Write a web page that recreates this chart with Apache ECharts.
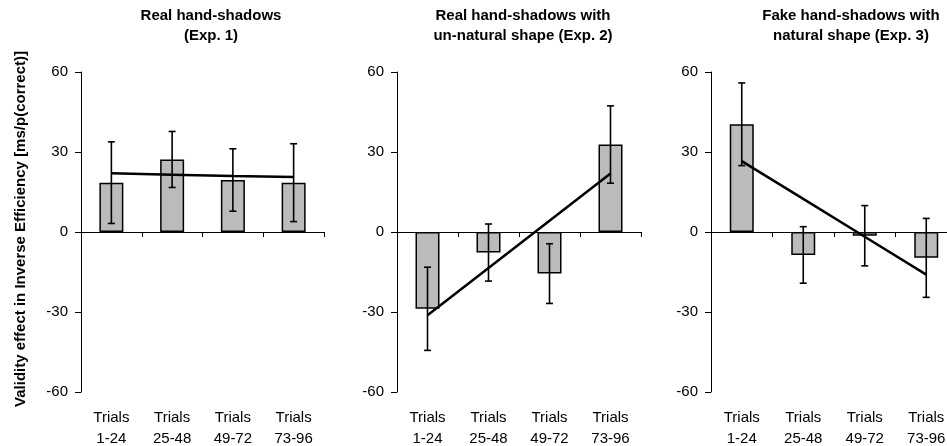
<!DOCTYPE html>
<html>
<head>
<meta charset="utf-8">
<script src="https://cdn.jsdelivr.net/npm/echarts@6/dist/echarts.min.js"></script>
<style>
html,body{margin:0;padding:0;background:#fff;}
#chart{width:947px;height:446px;}
</style>
</head>
<body>
<div id="chart"></div>
<script>
// ---- data ----
const categories = ['Trials\n1-24', 'Trials\n25-48', 'Trials\n49-72', 'Trials\n73-96'];
const panelTitles = [
  'Real hand-shadows\n(Exp. 1)',
  'Real hand-shadows with\nun-natural shape (Exp. 2)',
  'Fake hand-shadows with\nnatural shape (Exp. 3)'
];
const yTicks = [-60, -30, 0, 30, 60];
const exp1Means = [18.5, 27.2, 19.5, 18.5];
const exp1Errors = [15.3, 10.5, 11.7, 14.6];
const exp1Trend = [22.0, 21.5, 21.0, 20.6];
const exp2Means = [-28.8, -7.7, -15.6, 32.8];
const exp2Errors = [15.6, 10.7, 11.2, 14.5];
const exp2Trend = [-31.2, -13.5, 4.2, 21.9];
const exp3Means = [40.4, -8.6, -1.4, -9.7];
const exp3Errors = [15.5, 10.6, 11.3, 14.8];
const exp3Trend = [26.6, 12.4, -1.8, -16.0];
const yAxisTitle = 'Validity effect in Inverse Efficiency [ms/p(correct)]';

const panels = [
  {means: exp1Means, errors: exp1Errors, trend: exp1Trend},
  {means: exp2Means, errors: exp2Errors, trend: exp2Trend},
  {means: exp3Means, errors: exp3Errors, trend: exp3Trend}
];

// ---- layout ----
const grids = [
  {left: 81, width: 243},
  {left: 397, width: 244},
  {left: 711, width: 246}
];
const titleCenters = [206, 518, 846];
const FONT = '"Liberation Sans", Arial, sans-serif';

const option = {
  backgroundColor: '#fff',
  animation: false,
  title: panelTitles.map((t, i) => ({
    text: t,
    left: titleCenters[i],
    top: 1,
    padding: 5,
    textAlign: 'center',
    textStyle: {fontFamily: FONT, fontWeight: 'bold', fontSize: 15, color: '#000', lineHeight: 20}
  })),
  grid: grids.map(g => ({
    left: g.left, width: g.width, top: 72, height: 320,
    containLabel: false, outerBoundsMode: 'none'
  })),
  xAxis: [],
  yAxis: [],
  series: [],
  graphic: [{
    type: 'text',
    x: 21, y: 229,
    rotation: Math.PI / 2,
    style: {
      text: yAxisTitle,
      font: 'bold 15px ' + FONT,
      fill: '#000',
      align: 'center',
      verticalAlign: 'middle'
    }
  }]
};

panels.forEach((p, i) => {
  // zero-line axis with boundary ticks
  option.xAxis.push({
    type: 'category', gridIndex: i, data: categories,
    axisLine: {onZero: true, lineStyle: {color: '#000', width: 1}},
    axisTick: {show: true, length: 5, lineStyle: {color: '#000'}},
    axisLabel: {show: false},
    splitLine: {show: false}
  });
  // bottom label axis
  option.xAxis.push({
    type: 'category', gridIndex: i, data: categories, position: 'bottom',
    axisLine: {show: false, onZero: false},
    axisTick: {show: false},
    axisLabel: {show: true, margin: 15, color: '#000', fontFamily: FONT, fontSize: 15, lineHeight: 21},
    splitLine: {show: false}
  });
  option.yAxis.push({
    type: 'value', gridIndex: i, min: yTicks[0], max: yTicks[yTicks.length - 1], interval: 30,
    axisLine: {show: true, lineStyle: {color: '#000', width: 1}},
    axisTick: {show: true, length: 6, inside: false, lineStyle: {color: '#000'}},
    axisLabel: {color: '#000', fontFamily: FONT, fontSize: 15, margin: 13},
    splitLine: {show: false}
  });
  option.series.push({
    type: 'bar', xAxisIndex: 2 * i, yAxisIndex: i,
    data: p.means, barWidth: 24,
    itemStyle: {color: '#bbbbbb', borderColor: '#000', borderWidth: 1.5},
    z: 2
  });
  option.series.push({
    type: 'custom', xAxisIndex: 2 * i, yAxisIndex: i,
    data: p.means.map((m, k) => [k, m, p.errors[k]]),
    renderItem: function (params, api) {
      const x = api.value(0), m = api.value(1), e = api.value(2);
      const hi = api.coord([x, m + e]);
      const lo = api.coord([x, m - e]);
      const hw = 3.5;
      const style = {stroke: '#000', lineWidth: 1.6};
      return {
        type: 'group',
        children: [
          {type: 'line', shape: {x1: hi[0], y1: hi[1], x2: lo[0], y2: lo[1]}, style},
          {type: 'line', shape: {x1: hi[0] - hw, y1: hi[1], x2: hi[0] + hw, y2: hi[1]}, style},
          {type: 'line', shape: {x1: lo[0] - hw, y1: lo[1], x2: lo[0] + hw, y2: lo[1]}, style}
        ]
      };
    },
    z: 4
  });
  option.series.push({
    type: 'line', xAxisIndex: 2 * i, yAxisIndex: i,
    data: p.trend, symbol: 'none',
    lineStyle: {color: '#000', width: 2.5},
    z: 3
  });
});

const chart = echarts.init(document.getElementById('chart'), null, {renderer: 'canvas'});
chart.setOption(option);
</script>
</body>
</html>
